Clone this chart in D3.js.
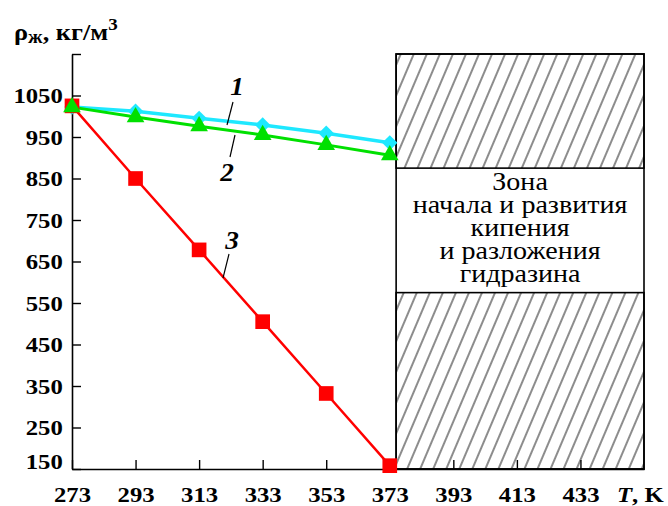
<!DOCTYPE html>
<html>
<head>
<meta charset="utf-8">
<script src="https://cdn.jsdelivr.net/npm/d3@7"></script>
<style>
  body { margin: 0; background: #fff; }
  svg { display: block; }
  svg text { font-family: "Liberation Serif", "DejaVu Serif", serif !important; }
</style>
</head>
<body>
<div id="chart"></div>
<script>
// data
var temps = [273, 293, 313, 333, 353, 373];
var rho1 = [1022, 1012, 995, 979, 959, 936];   // curve 1 (cyan)
var rho2 = [1022, 998, 976, 955, 931, 906];    // curve 2 (green)
var rho3 = [1025, 850, 678, 505, 332, 158];    // curve 3 (red)
var xTicks = [273, 293, 313, 333, 353, 373, 393, 413, 433];
var yTicks = [150, 250, 350, 450, 550, 650, 750, 850, 950, 1050, 1150];
var zoneT = [375, 453];
var zoneRho = [575, 875];
var zoneText = ["Зона", "начала и развития", "кипения", "и разложения", "гидразина"];

var width = 668, height = 506;

var svg = d3.select("#chart").append("svg")
  .attr("width", width)
  .attr("height", height);

var x = d3.scaleLinear().domain([273, 453]).range([72, 644]);
var y = d3.scaleLinear().domain([150, 1150]).range([469, 54]);

// hatch pattern
var defs = svg.append("defs");
defs.append("pattern")
  .attr("id", "hatch")
  .attr("patternUnits", "userSpaceOnUse")
  .attr("width", 12).attr("height", 12)
  .attr("patternTransform", "rotate(23)")
  .append("line")
  .attr("x1", 6).attr("y1", 0).attr("x2", 6).attr("y2", 12)
  .attr("stroke", "#000").attr("stroke-width", 0.9);

// zone box: hatched top and bottom, white band with text
var bands = [[1150, zoneRho[1]], [zoneRho[0], 150]];
svg.selectAll(".band")
  .data(bands).enter()
  .append("rect")
  .attr("x", x(zoneT[0]))
  .attr("y", function (d) { return y(d[0]); })
  .attr("width", x(zoneT[1]) - x(zoneT[0]))
  .attr("height", function (d) { return y(d[1]) - y(d[0]); })
  .attr("fill", "url(#hatch)")
  .attr("stroke", "#000")
  .attr("stroke-width", 1.6);

svg.append("rect")
  .attr("x", x(zoneT[0]))
  .attr("y", y(1150))
  .attr("width", x(zoneT[1]) - x(zoneT[0]))
  .attr("height", y(150) - y(1150))
  .attr("fill", "none")
  .attr("stroke", "#000")
  .attr("stroke-width", 1.6);

var cx = (x(zoneT[0]) + x(zoneT[1])) / 2;
svg.selectAll(".ztext")
  .data(zoneText).enter()
  .append("text")
  .attr("transform", function (d, i) { return "translate(" + cx + "," + (190 + i * 23) + ") scale(1.1,1)"; })
  .attr("text-anchor", "middle")
  .style("font-size", "25.5px")
  .text(function (d) { return d; });

// axes
var yAxis = svg.append("g")
  .attr("transform", "translate(" + x(273) + ",0)")
  .call(d3.axisLeft(y).tickValues(yTicks).tickSize(-9).tickSizeOuter(0)
    .tickFormat(function (d) { return d === 1150 ? "" : d; }));

var xAxis = svg.append("g")
  .attr("transform", "translate(0," + y(150) + ")")
  .call(d3.axisBottom(x).tickValues(xTicks).tickSize(-9).tickSizeOuter(0));

[yAxis, xAxis].forEach(function (g) {
  g.attr("font-family", null);
  g.select(".domain").attr("stroke", "#000").attr("stroke-width", 1.6);
  g.selectAll(".tick line").attr("stroke", "#000").attr("stroke-width", 1.4);
  g.selectAll("text")
    .attr("fill", "#000")
    .style("font-weight", "bold")
    .style("font-size", "21.5px");
});

yAxis.selectAll("text")
  .attr("x", -8).attr("dy", "0.34em")
  .attr("text-anchor", "end")
  .attr("transform", function (d) { return (d === 150 ? "translate(0,-8) " : "") + "scale(1.15,1)"; });

xAxis.selectAll("text")
  .attr("x", 0)
  .attr("y", 33).attr("dy", 0)
  .attr("transform", "scale(1.15,1)");

// axis titles
var tx = svg.append("text")
  .attr("transform", "translate(617,502) scale(1.15,1)")
  .style("font-size", "21.5px").style("font-weight", "bold");
tx.append("tspan").style("font-style", "italic").text("T");
tx.append("tspan").text(", K");

var ty = svg.append("text")
  .attr("transform", "translate(14,40) scale(1.12,1)")
  .style("font-size", "23.5px").style("font-weight", "bold");
ty.append("tspan").text("ρ");
ty.append("tspan").attr("dy", 3).style("font-size", "18px").text("ж");
ty.append("tspan").attr("dy", -3).text(", кг/м");
ty.append("tspan").attr("dy", -10).style("font-size", "17px").text("3");

// series
var series = [
  { vals: rho1, color: "#1ee8ff", width: 3.5, sym: d3.symbolSquare, size: 118, rot: 45 },
  { vals: rho3, color: "#ff0000", width: 2.5, sym: d3.symbolSquare, size: 215, rot: 0 },
  { vals: rho2, color: "#00e000", width: 3, sym: d3.symbolTriangle, size: 135, rot: 0 }
];

var line = d3.line()
  .x(function (d) { return x(d[0]); })
  .y(function (d) { return y(d[1]); });

series.forEach(function (s) {
  var pts = temps.map(function (t, i) { return [t, s.vals[i]]; });
  svg.append("path")
    .attr("d", line(pts))
    .attr("fill", "none")
    .attr("stroke", s.color)
    .attr("stroke-width", s.width);
});

series.forEach(function (s) {
  var pts = temps.map(function (t, i) { return [t, s.vals[i]]; });
  svg.selectAll(null)
    .data(pts).enter()
    .append("path")
    .attr("d", d3.symbol().type(s.sym).size(s.size))
    .attr("transform", function (d) { return "translate(" + x(d[0]) + "," + y(d[1]) + ") rotate(" + s.rot + ")"; })
    .attr("fill", s.color);
});

// curve labels with leaders
var labels = [
  { t: "1", tx: 237, ty: 95, l: [233, 102, 227, 125] },
  { t: "2", tx: 227, ty: 181, l: [235, 135, 230, 157] },
  { t: "3", tx: 232, ty: 249, l: [229, 254, 223, 278] }
];
labels.forEach(function (d) {
  svg.append("text")
    .attr("transform", "translate(" + d.tx + "," + d.ty + ") scale(1.05,1)")
    .attr("text-anchor", "middle")
    .style("font-size", "26px").style("font-weight", "bold").style("font-style", "italic")
    .text(d.t);
  svg.append("line")
    .attr("x1", d.l[0]).attr("y1", d.l[1]).attr("x2", d.l[2]).attr("y2", d.l[3])
    .attr("stroke", "#000").attr("stroke-width", 1.2);
});
</script>
</body>
</html>
